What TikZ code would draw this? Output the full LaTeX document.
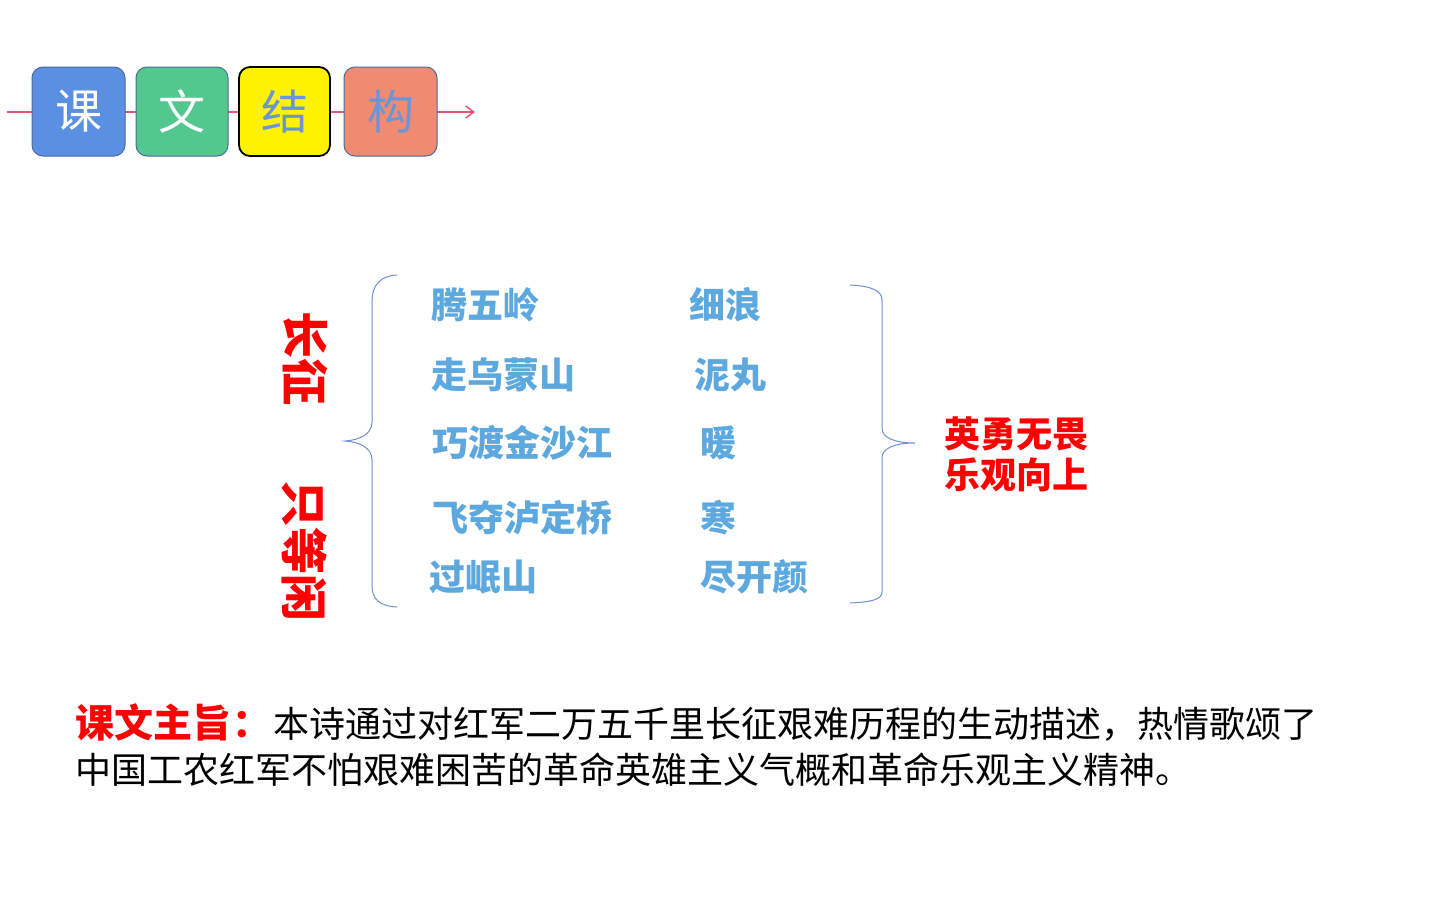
\documentclass[tikz,border=0pt]{standalone}
\usepackage{fontspec}
\setmainfont{Noto Sans CJK SC}
\newfontfamily\cjk{Noto Sans CJK SC}
\usetikzlibrary{arrows.meta}
\definecolor{boxblue}{HTML}{5B8FE2}
\definecolor{boxgreen}{HTML}{52C88F}
\definecolor{boxorange}{HTML}{F08A70}
\definecolor{boxedge}{HTML}{4A6A9A}
\definecolor{txtblue}{HTML}{6A96D8}
\definecolor{itemblue}{HTML}{5DA8DE}
\definecolor{bracecol}{HTML}{6E8FD0}
\definecolor{linered}{HTML}{E05A78}
\definecolor{hred}{HTML}{FF0000}
\tikzset{
  hbox/.style={rounded corners=11pt, minimum width=93pt, minimum height=89pt, line width=1pt, inner sep=0pt, font=\cjk\fontsize{47}{47}\selectfont},
  item/.style={anchor=west, inner sep=0pt, text=itemblue, font=\cjk\bfseries\fontsize{36}{36}\selectfont},
  vtext/.style={rotate=-90, inner sep=0pt, text=hred, font=\cjk\bfseries\fontsize{47}{47}\selectfont},
  brace/.style={draw=bracecol, line width=1pt},
}
\begin{document}
\begin{tikzpicture}[x=1pt,y=-1pt]
\useasboundingbox (0,0) rectangle (1440,900);
% header
\coordinate (ls) at (7,112);
\coordinate (le) at (475,112);
\draw[linered, line width=1.6pt, -{Straight Barb[length=8pt,width=12pt]}] (ls) -- (le);
\node[hbox, fill=boxblue, draw=boxedge, text=white] (h1) at (78.5,111.5) {课};
\node[hbox, fill=boxgreen, draw=boxedge, minimum width=92pt, text=white] (h2) at (182,111.5) {文};
\node[hbox, fill=yellow, draw=black, line width=1.8pt, minimum width=91pt, text=txtblue] (h3) at (284.5,111.5) {结};
\node[hbox, fill=boxorange, draw=boxedge, text=txtblue] (h4) at (390.5,111.5) {构};
% vertical titles
\node[vtext] (v1) at (305,358) {长征};
\node[vtext] (v2) at (305,551) {只等闲};
% left brace
\draw[brace] (397,275) .. controls (380,276) and (372,285) .. (372,302) -- (372,422) .. controls (372,434) and (360,440) .. (345,441) .. controls (360,442) and (372,448) .. (372,460) -- (372,585) .. controls (372,600) and (380,606) .. (397,607);
% right brace
\draw[brace] (850,285) .. controls (870,286) and (882,290) .. (882,300) -- (882,428) .. controls (882,438) and (895,443) .. (915,443) .. controls (895,443) and (882,448) .. (882,458) -- (882,592) .. controls (882,600) and (870,602) .. (850,603);
% items
\node[item] (a1) at (431,305) {腾五岭};
\node[item] (a2) at (431,375) {走乌蒙山};
\node[item] (a3) at (432,443) {巧渡金沙江};
\node[item] (a4) at (432,518) {飞夺泸定桥};
\node[item] (a5) at (429,577) {过岷山};
\node[item] (b1) at (689,305) {细浪};
\node[item] (b2) at (694,375) {泥丸};
\node[item] (b3) at (700,443) {暖};
\node[item] (b4) at (700,518) {寒};
\node[item] (b5) at (700,577) {尽开颜};
% conclusion
\node[item, text=hred, align=left, font=\cjk\bfseries\fontsize{36}{41}\selectfont] (c) at (944,454) {英勇无畏\\乐观向上};
% theme
\node[anchor=west, inner sep=0pt, align=left, font=\cjk\fontsize{36}{46}\selectfont] (t) at (75,745) {{\bfseries\color{hred}\fontsize{39}{46}\selectfont 课文主旨\makebox[42pt][c]{：}}本诗通过对红军二万五千里长征艰难历程的生动描述，热情歌颂了\\中国工农红军不怕艰难困苦的革命英雄主义气概和革命乐观主义精神。};
\end{tikzpicture}
\end{document}
